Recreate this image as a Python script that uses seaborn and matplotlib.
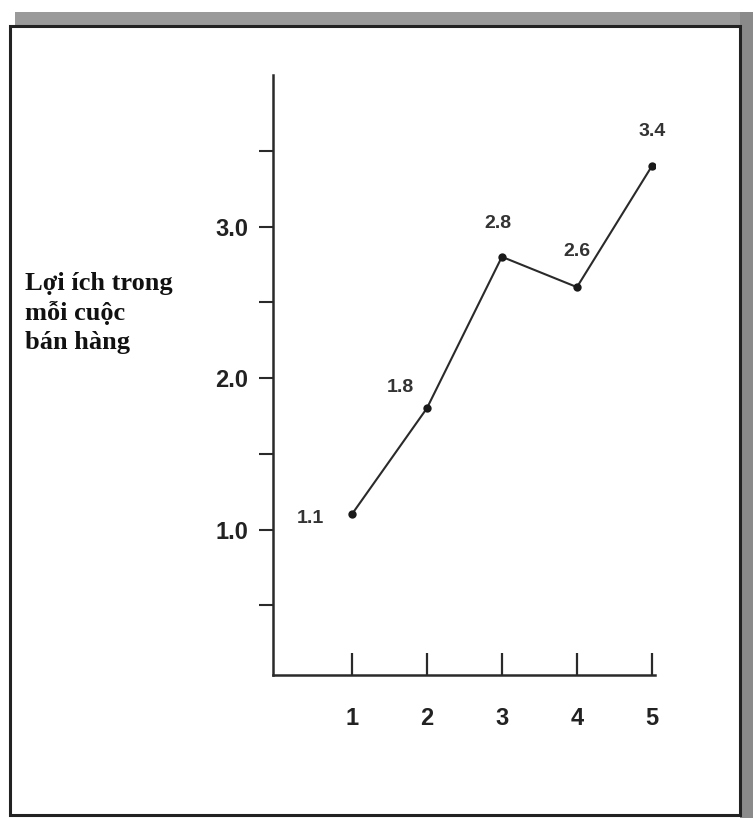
import matplotlib

matplotlib.use("Agg")
import matplotlib.pyplot as plt
import numpy as np
import pandas as pd
import seaborn as sns
from matplotlib.patches import Rectangle

# chart data
periods = [1, 2, 3, 4, 5]
benefit = [1.1, 1.8, 2.8, 2.6, 3.4]
point_labels = ["1.1", "1.8", "2.8", "2.6", "3.4"]
major_yticks = [1.0, 2.0, 3.0]
major_ylabels = ["1.0", "2.0", "3.0"]
minor_yticks = [0.5, 1.5, 2.5, 3.5]
ylabel_text = "Lợi ích trong\nmỗi cuộc\nbán hàng"

sns.set_style("white")
plt.rcParams["font.family"] = ["Liberation Sans", "DejaVu Sans"]

W, H = 753, 818
fig = plt.figure(figsize=(W / 100, H / 100), dpi=100)
fig.patch.set_facecolor("white")

# scanned frame with gray shadow on top and right
fig.patches.append(Rectangle((15 / W, 1 - 26 / H), 738 / W, 14 / H, transform=fig.transFigure,
                             facecolor="#9a9a9a", edgecolor="none", zorder=0))
fig.patches.append(Rectangle((740 / W, 0), 13 / W, 1 - 12 / H, transform=fig.transFigure,
                             facecolor="#8a8a8a", edgecolor="none", zorder=0))
fig.patches.append(Rectangle((10 / W, 3 / H), 730 / W, 1 - 29 / H, transform=fig.transFigure,
                             facecolor="white", edgecolor="#222222", linewidth=2.2, zorder=1))

ax = fig.add_axes([273 / W, 1 - 675 / H, (655 - 273) / W, (675 - 75) / H])
ax.set_zorder(2)
ax.patch.set_alpha(0)

df = pd.DataFrame({"period": periods, "benefit": benefit})
sns.lineplot(data=df, x="period", y="benefit", ax=ax, color="#2a2a2a", linewidth=1.5,
             marker="o", markersize=6, markeredgewidth=0, markerfacecolor="#1a1a1a")

ax.set_xlim(-0.05, 5.04)
ax.set_ylim(0.04, 4.0)

for s in ["top", "right"]:
    ax.spines[s].set_visible(False)
for s in ["left", "bottom"]:
    ax.spines[s].set_color("#2a2a2a")
    ax.spines[s].set_linewidth(1.8)

ax.set_xticks(periods)
ax.set_xticklabels([str(p) for p in periods])
ax.tick_params(axis="x", bottom=True, direction="in", length=16, width=1.6, color="#2a2a2a",
               pad=23, labelsize=17, labelcolor="#222222")
ax.set_yticks(major_yticks)
ax.set_yticklabels(major_ylabels)
ax.set_yticks(minor_yticks, minor=True)
ax.tick_params(axis="y", which="both", left=True, direction="out", length=10, width=1.5,
               color="#2a2a2a", pad=8, labelsize=17, labelcolor="#222222")
for lab in ax.get_xticklabels() + ax.get_yticklabels():
    lab.set_fontweight("bold")
ax.set_xlabel("")
ax.set_ylabel("")

offsets = [(-30, -3), (-19, 15), (-3, 24), (0, 26), (0, 25)]
for x, y, lab, off in zip(periods, benefit, point_labels, offsets):
    ax.annotate(lab, (x, y), xytext=off, textcoords="offset points", ha="center",
                va="center", fontsize=14, color="#333333", fontweight="bold")

fig.text(25 / W, 1 - 272 / H, ylabel_text, ha="left", va="top", fontsize=19,
         fontweight="bold", family=["Liberation Serif", "DejaVu Serif"],
         color="#111111", linespacing=1.32)

fig.savefig("out.png", dpi=100)
